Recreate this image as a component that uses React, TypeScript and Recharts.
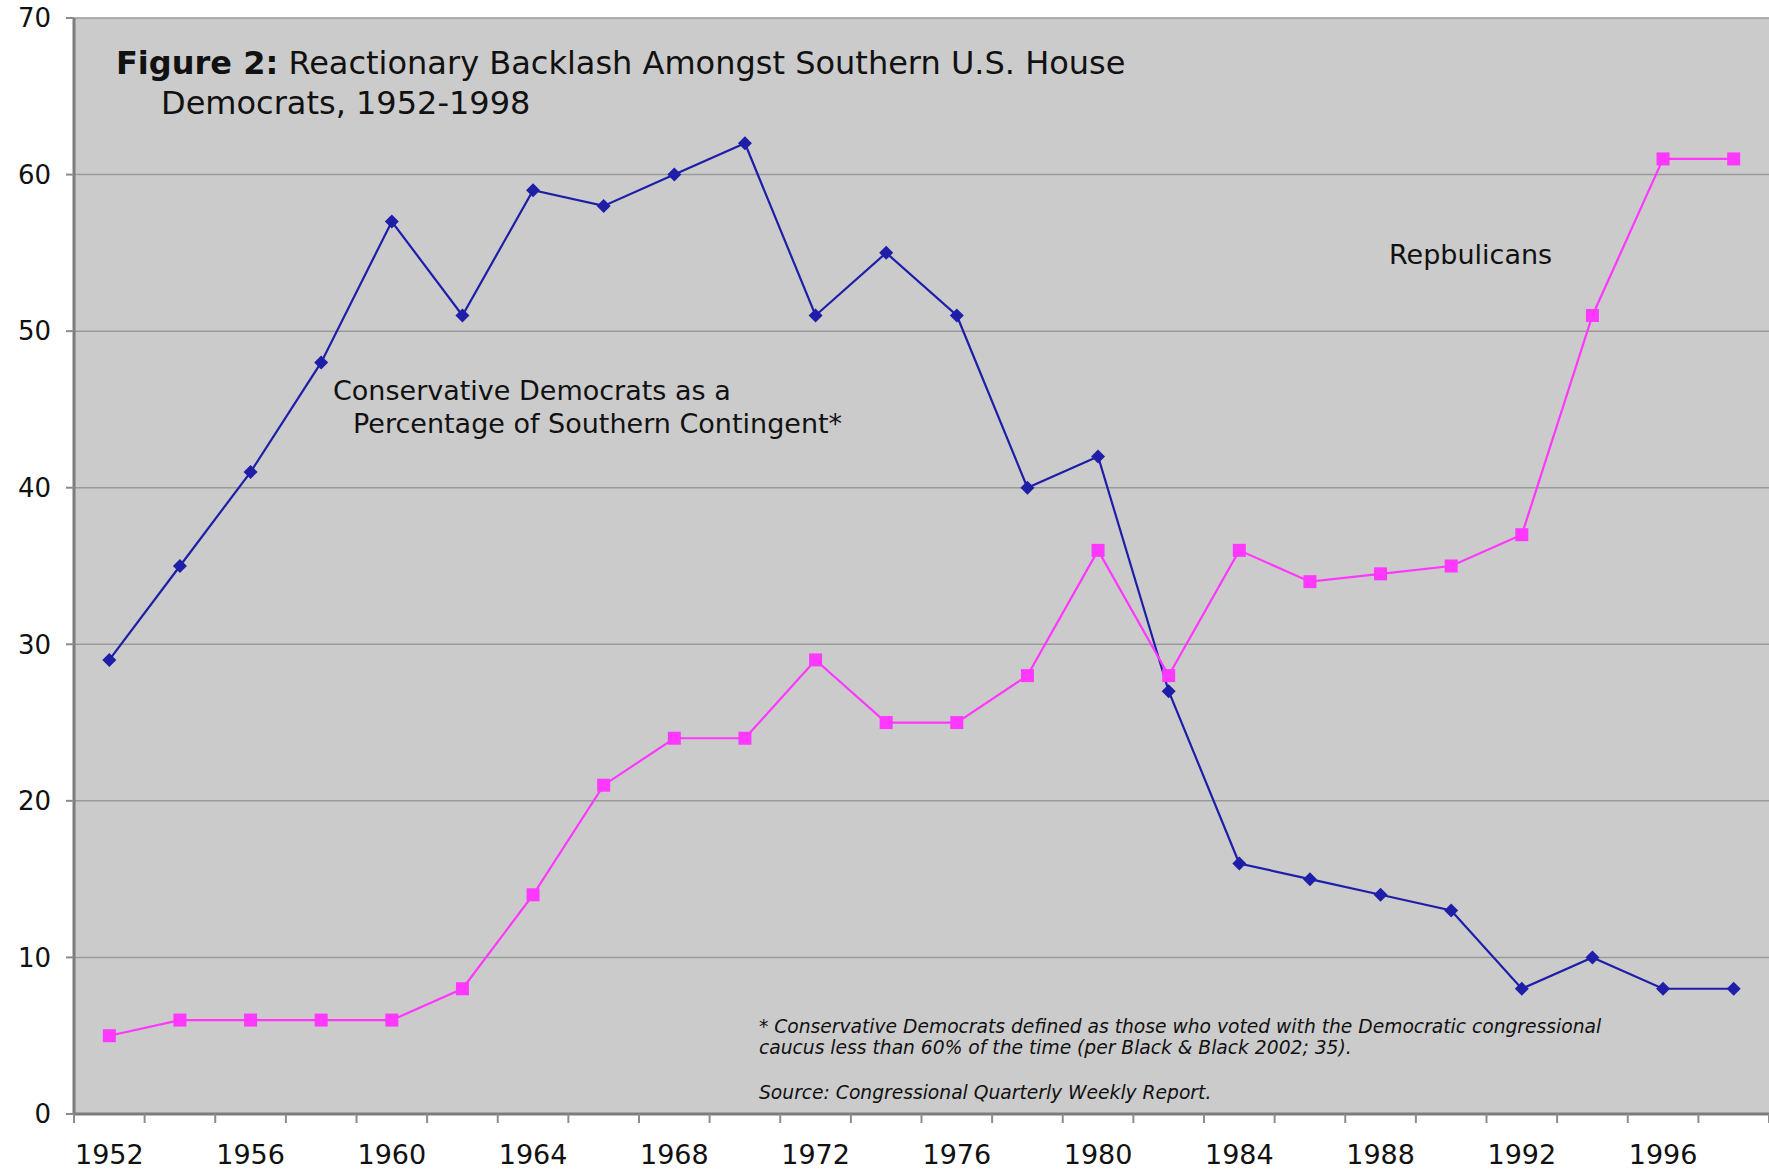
import { CartesianGrid, Line, LineChart, XAxis, YAxis } from "recharts";

const years = [
  1952, 1954, 1956, 1958, 1960, 1962, 1964, 1966, 1968, 1970, 1972, 1974,
  1976, 1978, 1980, 1982, 1984, 1986, 1988, 1990, 1992, 1994, 1996, 1998,
];
const democrats = [
  29, 35, 41, 48, 57, 51, 59, 58, 60, 62, 51, 55, 51, 40, 42, 27, 16, 15, 14,
  13, 8, 10, 8, 8,
];
const republicans = [
  5, 6, 6, 6, 6, 8, 14, 21, 24, 24, 29, 25, 25, 28, 36, 28, 36, 34, 34.5, 35,
  37, 51, 61, 61,
];
const yTicks = [0, 10, 20, 30, 40, 50, 60, 70];
const yearLabels = [1952, 1956, 1960, 1964, 1968, 1972, 1976, 1980, 1984, 1988, 1992, 1996];

const data = years.map((year, i) => ({
  year,
  dem: democrats[i],
  rep: republicans[i],
}));
// tick marks sit between the two-year points
const edges = [...years.map((y) => y - 1), years[years.length - 1] + 1];

const FONT = "'DejaVu Sans', Verdana, sans-serif";
const BLUE = "#1e1ea8";
const PINK = "#ff38ff";
const AXIS = "#7c7c7c";
const TICK = "#8c8c8c";

function Diamond(props: any) {
  const { cx, cy, index } = props;
  if (cx == null || cy == null) return null;
  const r = 7;
  return (
    <path
      key={`dem-${index}`}
      d={`M${cx},${cy - r}L${cx + r},${cy}L${cx},${cy + r}L${cx - r},${cy}Z`}
      fill={BLUE}
    />
  );
}

function Square(props: any) {
  const { cx, cy, index } = props;
  if (cx == null || cy == null) return null;
  const s = 13;
  return <rect key={`rep-${index}`} x={cx - s / 2} y={cy - s / 2} width={s} height={s} fill={PINK} />;
}

function Notes() {
  const txt = { fontFamily: FONT, fill: "#111" };
  return (
    <svg
      width={1769}
      height={1175}
      style={{ position: "absolute", left: 0, top: 0, pointerEvents: "none" }}
    >
      <g {...txt} fontSize={32} dominantBaseline="central">
        <text x={116} y={63}>
          <tspan fontWeight="bold">Figure 2:</tspan> Reactionary Backlash Amongst Southern U.S. House
        </text>
        <text x={161} y={103}>Democrats, 1952-1998</text>
      </g>
      <g {...txt} fontSize={27} dominantBaseline="central">
        <text x={333} y={390}>Conservative Democrats as a</text>
        <text x={353} y={423}>Percentage of Southern Contingent*</text>
        <text x={1389} y={254}>Repbulicans</text>
      </g>
      <g {...txt} fontSize={18.7} fontStyle="italic" dominantBaseline="central">
        <text x={759} y={1026}>
          * Conservative Democrats defined as those who voted with the Democratic congressional
        </text>
        <text x={759} y={1047}>
          caucus less than 60% of the time (per Black &amp; Black 2002; 35).
        </text>
        <text x={759} y={1092}>Source:  Congressional Quarterly Weekly Report.</text>
      </g>
    </svg>
  );
}

export default function App() {
  return (
    <div style={{ position: "absolute", left: 0, top: 0, width: 1769, height: 1175, background: "#fff" }}>
      <LineChart
        width={1769}
        height={1175}
        data={data}
        margin={{ top: 18, right: 0, bottom: 0, left: 0 }}
      >
        <CartesianGrid
          xAxisId="yr"
          vertical={false}
          fill="#cbcbcb"
          stroke="#9a9a9a"
          strokeWidth={1.5}
          strokeOpacity={1}
        />
        <XAxis
          xAxisId="edges"
          type="number"
          dataKey="year"
          domain={[edges[0], edges[edges.length - 1]]}
          ticks={edges}
          interval={0}
          tick={() => null}
          tickSize={9}
          tickLine={{ stroke: TICK, strokeWidth: 2 }}
          axisLine={{ stroke: AXIS, strokeWidth: 3 }}
          height={1}
          allowDataOverflow
        />
        <XAxis
          xAxisId="yr"
          type="number"
          dataKey="year"
          domain={[edges[0], edges[edges.length - 1]]}
          ticks={yearLabels}
          interval={0}
          tickLine={false}
          axisLine={false}
          tickSize={0}
          tickMargin={30}
          height={60}
          tick={{ fontFamily: FONT, fontSize: 27, fill: "#111" }}
          allowDataOverflow
        />
        <YAxis
          type="number"
          domain={[0, 70]}
          ticks={yTicks}
          interval={0}
          width={74}
          tickSize={8}
          tickMargin={15}
          tickLine={{ stroke: TICK, strokeWidth: 2 }}
          axisLine={{ stroke: AXIS, strokeWidth: 3 }}
          tick={{ fontFamily: FONT, fontSize: 26, fill: "#111" }}
        />
        <Line
          xAxisId="yr"
          type="linear"
          dataKey="dem"
          stroke={BLUE}
          strokeWidth={2.2}
          dot={Diamond}
          activeDot={false}
          isAnimationActive={false}
        />
        <Line
          xAxisId="yr"
          type="linear"
          dataKey="rep"
          stroke={PINK}
          strokeWidth={2.2}
          dot={Square}
          activeDot={false}
          isAnimationActive={false}
        />
      </LineChart>
      <Notes />
    </div>
  );
}
